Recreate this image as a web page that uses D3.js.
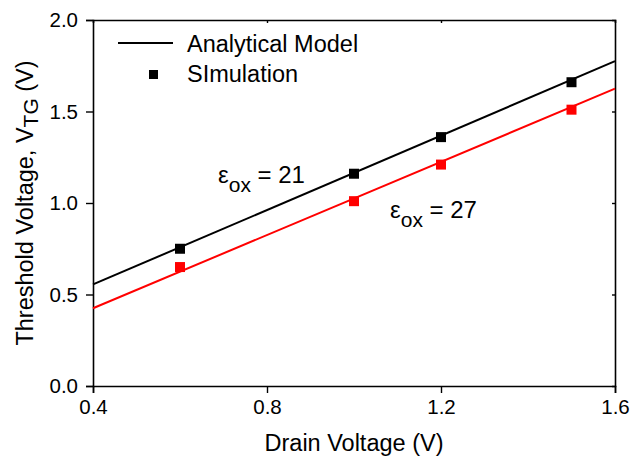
<!DOCTYPE html>
<html>
<head>
<meta charset="utf-8">
<script src="https://cdn.jsdelivr.net/npm/d3@7"></script>
<style>
  body { margin: 0; background: #fff; }
  svg { display: block; font-family: "Liberation Sans", Arial, sans-serif; }
</style>
</head>
<body>
<div id="chart"></div>
<script>
// drain voltage where simulation points sit
const simX = [0.6, 1.0, 1.2, 1.5];
const simEps21 = [0.75, 1.16, 1.36, 1.66];
const simEps27 = [0.65, 1.01, 1.21, 1.51];

// analytical model lines (end points over the axis span)
const modelX = [0.4, 1.6];
const modelEps21 = [0.555, 1.775];
const modelEps27 = [0.425, 1.625];

const xTicks = [0.4, 0.8, 1.2, 1.6];
const yTicks = [0.0, 0.5, 1.0, 1.5, 2.0];

const width = 631, height = 459;
const margin = { top: 20, right: 16, bottom: 73, left: 93 };

const svg = d3.select("#chart").append("svg")
    .attr("width", width)
    .attr("height", height);

const x = d3.scaleLinear().domain([0.4, 1.6]).range([margin.left, width - margin.right]);
const y = d3.scaleLinear().domain([0, 2.0]).range([height - margin.bottom, margin.top]);

// axes
const axisStyle = g => {
    g.select(".domain").attr("stroke", "#000").attr("stroke-width", 1.6);
    g.selectAll(".tick line").attr("stroke", "#000").attr("stroke-width", 1.4);
    g.selectAll(".tick text").attr("fill", "#000").style("font-size", "20.5px");
};

svg.append("g")
    .attr("transform", `translate(0,${y(0)})`)
    .call(d3.axisBottom(x).tickValues(xTicks).tickFormat(d3.format(".1f")).tickSizeOuter(0).tickSize(7).tickPadding(6))
    .call(axisStyle);

svg.append("g")
    .attr("transform", `translate(${x(0.4)},0)`)
    .call(d3.axisLeft(y).tickValues(yTicks).tickFormat(d3.format(".1f")).tickSizeOuter(0).tickSize(7).tickPadding(8))
    .call(axisStyle);

svg.append("g")
    .attr("transform", `translate(0,${y(2.0)})`)
    .call(d3.axisTop(x).tickValues(xTicks.slice(1, 3)).tickFormat("").tickSizeOuter(0).tickSize(-3))
    .call(axisStyle);

svg.append("g")
    .attr("transform", `translate(${x(1.6)},0)`)
    .call(d3.axisRight(y).tickValues(yTicks.slice(1, 4)).tickFormat("").tickSizeOuter(0).tickSize(-3))
    .call(axisStyle);

// axis labels
svg.append("text")
    .attr("x", (x(0.4) + x(1.6)) / 2)
    .attr("y", 451)
    .attr("text-anchor", "middle")
    .style("font-size", "23.5px")
    .text("Drain Voltage (V)");

const yLabel = svg.append("text")
    .attr("transform", `translate(33,${(y(0) + y(2.0)) / 2}) rotate(-90)`)
    .attr("text-anchor", "middle")
    .style("font-size", "23.5px");
yLabel.append("tspan").text("Threshold Voltage, V");
yLabel.append("tspan").attr("dy", 5).style("font-size", "21px").text("TG");
yLabel.append("tspan").attr("dy", -5).text(" (V)");

// model lines
const line = d3.line().x(d => x(d[0])).y(d => y(d[1]));
const series = [
    { model: modelEps21, sim: simEps21, color: "#000000" },
    { model: modelEps27, sim: simEps27, color: "#ff0000" }
];

series.forEach(s => {
    svg.append("path")
        .datum(d3.zip(modelX, s.model))
        .attr("d", line)
        .attr("fill", "none")
        .attr("stroke", s.color)
        .attr("stroke-width", 2);

    svg.append("g")
        .selectAll("rect")
        .data(d3.zip(simX, s.sim))
        .join("rect")
        .attr("x", d => x(d[0]) - 5)
        .attr("y", d => y(d[1]) - 5)
        .attr("width", 10)
        .attr("height", 10)
        .attr("fill", s.color);
});

// epsilon annotations
function epsLabel(px, py, val) {
    const t = svg.append("text")
        .attr("x", px)
        .attr("y", py)
        .style("font-size", "24px");
    t.append("tspan").text("ε");
    t.append("tspan").attr("dy", 9).style("font-size", "21px").text("ox");
    t.append("tspan").attr("dy", -9).text(" = " + val);
}
epsLabel(218, 183, 21);
epsLabel(390, 218, 27);

// legend
const legend = svg.append("g");
legend.append("line")
    .attr("x1", 118).attr("x2", 173)
    .attr("y1", 43).attr("y2", 43)
    .attr("stroke", "#000")
    .attr("stroke-width", 2);
legend.append("text")
    .attr("x", 187).attr("y", 52)
    .style("font-size", "23.5px")
    .text("Analytical Model");
legend.append("rect")
    .attr("x", 149).attr("y", 70)
    .attr("width", 9).attr("height", 9)
    .attr("fill", "#000");
legend.append("text")
    .attr("x", 187).attr("y", 82)
    .style("font-size", "23.5px")
    .text("SImulation");
</script>
</body>
</html>
